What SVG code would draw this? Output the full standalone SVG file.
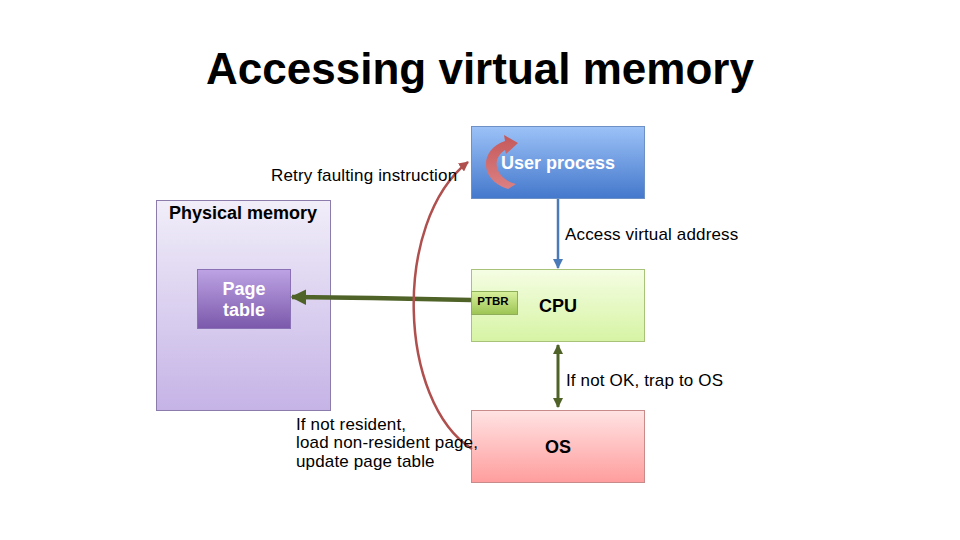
<svg xmlns="http://www.w3.org/2000/svg" width="960" height="540" viewBox="0 0 960 540">
<defs>
<linearGradient id="gBlue" x1="0" y1="0" x2="0" y2="1"><stop offset="0" stop-color="#9cc2f7"/><stop offset="1" stop-color="#4478cc"/></linearGradient>
<linearGradient id="gLav" x1="0" y1="0" x2="0" y2="1"><stop offset="0" stop-color="#f1eef9"/><stop offset="1" stop-color="#c5b3e6"/></linearGradient>
<linearGradient id="gPurp" x1="0" y1="0" x2="0" y2="1"><stop offset="0" stop-color="#bda3e4"/><stop offset="1" stop-color="#7b58ab"/></linearGradient>
<linearGradient id="gGreen" x1="0" y1="0" x2="0" y2="1"><stop offset="0" stop-color="#f5fde3"/><stop offset="1" stop-color="#d6f4a4"/></linearGradient>
<linearGradient id="gPtbr" x1="0" y1="0" x2="0" y2="1"><stop offset="0" stop-color="#d8f09c"/><stop offset="1" stop-color="#9cc453"/></linearGradient>
<linearGradient id="gPink" x1="0" y1="0" x2="0" y2="1"><stop offset="0" stop-color="#ffe3e3"/><stop offset="1" stop-color="#ff9d9d"/></linearGradient>
<linearGradient id="gCurl" x1="0" y1="0" x2="0" y2="1"><stop offset="0" stop-color="#c9504c"/><stop offset="1" stop-color="#e8807c"/></linearGradient>
<marker id="mBlue" viewBox="0 0 10 10" refX="9" refY="5" markerWidth="4" markerHeight="4" orient="auto"><path d="M0,0 L10,5 L0,10 z" fill="#4a7ab8"/></marker>
<marker id="mGreen" viewBox="0 0 10 10" refX="9" refY="5" markerWidth="3.5" markerHeight="3.5" orient="auto-start-reverse"><path d="M0,0 L10,5 L0,10 z" fill="#4f6228"/></marker>
<marker id="mRed" viewBox="0 0 10 10" refX="9" refY="5" markerWidth="4" markerHeight="4" orient="auto"><path d="M0,0 L10,5 L0,10 z" fill="#b0504e"/></marker>
</defs>
<style>
text{font-family:"Liberation Sans",Arial,sans-serif;fill:#000}
.lbl{font-size:17px;letter-spacing:0.15px}
.b{font-weight:bold;font-size:18px}
.w{fill:#fff}
</style>
<rect width="960" height="540" fill="#fff"/>
<text x="480" y="84" text-anchor="middle" font-size="44" font-weight="bold">Accessing virtual memory</text>

<g id="physical-memory">
<rect x="156.5" y="200.5" width="174" height="210" fill="url(#gLav)" stroke="#8c7cab"/>
<text x="243" y="219" class="b" text-anchor="middle">Physical memory</text>
</g>
<g id="page-table">
<rect x="197.5" y="269.5" width="93" height="59" fill="url(#gPurp)" stroke="#8a70b5"/>
<text x="244" y="295" class="b w" text-anchor="middle">Page</text>
<text x="244" y="316" class="b w" text-anchor="middle">table</text>
</g>
<g id="user-process">
<rect x="471.5" y="126.5" width="173" height="72" fill="url(#gBlue)" stroke="#6d90c6"/>
<path d="M516,184 C496,179 490,160 505,150 L506,154 L518,143 L504,135 L505,141 C480,149 478,180 508,189 Z" fill="url(#gCurl)" opacity="0.92"/>
<text x="558" y="169" class="b w" text-anchor="middle">User process</text>
</g>
<g id="cpu">
<rect x="471.5" y="269.5" width="173" height="72" fill="url(#gGreen)" stroke="#a9c27a"/>
<text x="558" y="312" class="b" text-anchor="middle">CPU</text>
</g>
<g id="ptbr">
<rect x="471.5" y="291.5" width="46" height="23" fill="url(#gPtbr)" stroke="#8fae5a"/>
<text x="493" y="305" font-size="11.5" font-weight="bold" text-anchor="middle">PTBR</text>
</g>
<g id="os">
<rect x="471.5" y="410.5" width="173" height="72" fill="url(#gPink)" stroke="#c98a8a"/>
<text x="558" y="453" class="b" text-anchor="middle">OS</text>
</g>

<g id="connectors" fill="none">
<line x1="558" y1="199" x2="558" y2="268" stroke="#4a7ab8" stroke-width="2.5" marker-end="url(#mBlue)"/>
<line x1="558" y1="345" x2="558" y2="407" stroke="#4f6228" stroke-width="3" marker-start="url(#mGreen)" marker-end="url(#mGreen)"/>
<path d="M471,300 L372,298 L292,297" stroke="#4f6228" stroke-width="4.5" marker-end="url(#mGreen)"/>
<path d="M472,449 C398,402 392,222 468,162" stroke="#b0504e" stroke-width="2.5" marker-end="url(#mRed)"/>
</g>

<text x="271" y="181" class="lbl">Retry faulting instruction</text>
<text x="565" y="240" class="lbl">Access virtual address</text>
<text x="566" y="386" class="lbl">If not OK, trap to OS</text>
<text x="296" y="430" class="lbl">If not resident,</text>
<text x="296" y="448" class="lbl">load non-resident page,</text>
<text x="296" y="467" class="lbl">update page table</text>
</svg>
